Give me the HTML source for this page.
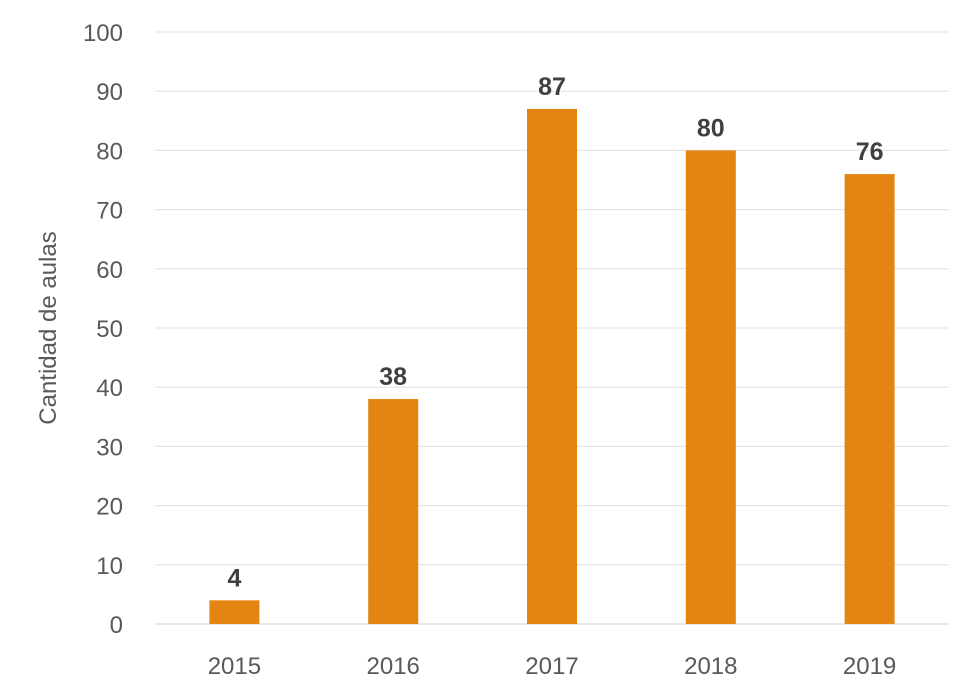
<!DOCTYPE html>
<html><head><meta charset="utf-8"><style>
body{margin:0;background:#fff}
svg{display:block;font-family:"Liberation Sans",Arial,sans-serif}
</style></head><body>
<svg id="chart" width="971" height="699" viewBox="0 0 971 699">
<text transform="translate(56,328) rotate(-90)" text-anchor="middle" font-size="24" fill="#595959">Cantidad de aulas</text>
<g id="grid"></g><g id="bars"></g><g id="labels"></g>
</svg>
<script>
const categories=["2015","2016","2017","2018","2019"];
const values=[4,38,87,80,76];
const yTicks=[0,10,20,30,40,50,60,70,80,90,100];
const NS="http://www.w3.org/2000/svg";
const x0=155,x1=949,yTop=32,yBot=624,yMax=100;
const y=v=>yBot-(v/yMax)*(yBot-yTop);
const band=(x1-x0)/categories.length;
const xc=i=>x0+band*(i+0.5);
const bw=50;
function mk(t,a,p){const e=document.createElementNS(NS,t);for(const k in a)e.setAttribute(k,a[k]);p.appendChild(e);return e;}
const grid=document.getElementById('grid'),bars=document.getElementById('bars'),labels=document.getElementById('labels');
yTicks.forEach(t=>{
const l=mk('line',{x1:x0,x2:x1,y1:y(t),y2:y(t),stroke:t===0?'#d0d0d0':'#e0e0e0','stroke-width':1},grid);


const tx=mk('text',{x:123,y:y(t)+9,'text-anchor':'end','font-size':24,fill:'#595959'},grid);
tx.textContent=t;


});
categories.forEach((c,i)=>{
const r=mk('rect',{x:xc(i)-bw/2,y:y(values[i]),width:bw,height:yBot-y(values[i]),fill:'#e48413'},bars);


const v=mk('text',{x:xc(i),y:y(values[i])-14,'text-anchor':'middle','font-size':25,'font-weight':'bold',fill:'#404040'},labels);
v.textContent=values[i];


const xl=mk('text',{x:xc(i),y:674,'text-anchor':'middle','font-size':24,fill:'#595959'},labels);
xl.textContent=c;


});
</script>
</body></html>
